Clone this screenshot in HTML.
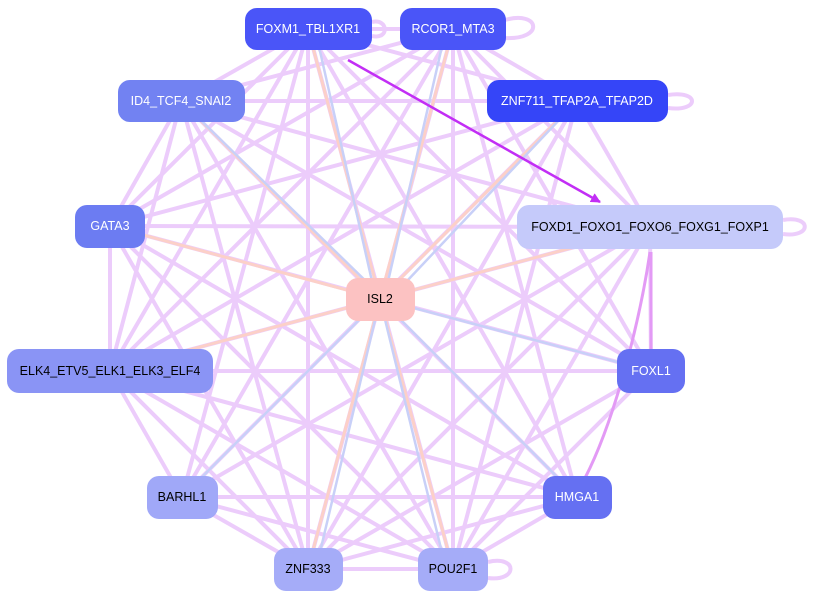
<!DOCTYPE html>
<html><head><meta charset="utf-8"><style>
html,body{margin:0;padding:0;background:#fff;}
svg{display:block;}
text{font-family:"Liberation Sans",sans-serif;font-size:12.5px;text-anchor:middle;dominant-baseline:central;}
</style></head><body>
<svg width="815" height="599" viewBox="0 0 815 599" xmlns="http://www.w3.org/2000/svg">
<defs>
<marker id="a" viewBox="0 0 10 10" refX="9" refY="5" markerWidth="4" markerHeight="4" orient="auto"><path d="M0,0L10,5L0,10z" fill="#e6c2fa"/></marker>
<marker id="b" viewBox="0 0 10 10" refX="9" refY="5" markerWidth="4" markerHeight="4" orient="auto"><path d="M0,0L10,5L0,10z" fill="#c22ef5"/></marker>
</defs>
<g stroke="#ebcafb" stroke-width="4" fill="none" opacity="0.95">
<line x1="308" y1="29" x2="181" y2="101"/>
<line x1="308" y1="29" x2="110" y2="226"/>
<line x1="308" y1="29" x2="110" y2="371"/>
<line x1="308" y1="29" x2="182" y2="497"/>
<line x1="308" y1="29" x2="308" y2="569"/>
<line x1="308" y1="29" x2="453" y2="569"/>
<line x1="308" y1="29" x2="577" y2="497"/>
<line x1="308" y1="29" x2="651" y2="371"/>
<line x1="308" y1="29" x2="577" y2="101"/>
<line x1="308" y1="29" x2="453" y2="29"/>
<line x1="453" y1="29" x2="181" y2="101"/>
<line x1="453" y1="29" x2="110" y2="226"/>
<line x1="453" y1="29" x2="110" y2="371"/>
<line x1="453" y1="29" x2="182" y2="497"/>
<line x1="453" y1="29" x2="308" y2="569"/>
<line x1="453" y1="29" x2="453" y2="569"/>
<line x1="453" y1="29" x2="577" y2="497"/>
<line x1="453" y1="29" x2="651" y2="371"/>
<line x1="453" y1="29" x2="577" y2="101"/>
<line x1="453" y1="29" x2="650" y2="227"/>
<line x1="181" y1="101" x2="577" y2="101"/>
<line x1="181" y1="101" x2="650" y2="227"/>
<line x1="181" y1="101" x2="110" y2="226"/>
<line x1="181" y1="101" x2="110" y2="371"/>
<line x1="181" y1="101" x2="308" y2="569"/>
<line x1="181" y1="101" x2="453" y2="569"/>
<line x1="181" y1="101" x2="577" y2="497"/>
<line x1="181" y1="101" x2="651" y2="371"/>
<line x1="577" y1="101" x2="110" y2="226"/>
<line x1="577" y1="101" x2="110" y2="371"/>
<line x1="577" y1="101" x2="308" y2="569"/>
<line x1="577" y1="101" x2="453" y2="569"/>
<line x1="577" y1="101" x2="650" y2="227"/>
<line x1="577" y1="101" x2="182" y2="497"/>
<line x1="110" y1="226" x2="650" y2="227"/>
<line x1="110" y1="226" x2="110" y2="371"/>
<line x1="110" y1="226" x2="308" y2="569"/>
<line x1="110" y1="226" x2="453" y2="569"/>
<line x1="110" y1="226" x2="577" y2="497"/>
<line x1="110" y1="226" x2="651" y2="371"/>
<line x1="110" y1="371" x2="650" y2="227"/>
<line x1="110" y1="371" x2="651" y2="371"/>
<line x1="110" y1="371" x2="182" y2="497"/>
<line x1="110" y1="371" x2="308" y2="569"/>
<line x1="110" y1="371" x2="453" y2="569"/>
<line x1="110" y1="371" x2="577" y2="497"/>
<line x1="650" y1="227" x2="182" y2="497"/>
<line x1="650" y1="227" x2="308" y2="569"/>
<line x1="650" y1="227" x2="453" y2="569"/>
<line x1="650" y1="227" x2="651" y2="371"/>
<line x1="651" y1="371" x2="308" y2="569"/>
<line x1="651" y1="371" x2="453" y2="569"/>
<line x1="182" y1="497" x2="577" y2="497"/>
<line x1="182" y1="497" x2="308" y2="569"/>
<line x1="182" y1="497" x2="453" y2="569"/>
<line x1="308" y1="569" x2="453" y2="569"/>
<line x1="577" y1="497" x2="453" y2="569"/>
<line x1="577" y1="497" x2="308" y2="569"/>
<path d="M505,20 C540,10 545,40 505,38"/>
<path d="M668,95 C700,90 700,112 668,108"/>
<path d="M783,220 C812,215 812,238 783,234"/>
<path d="M488,562 C518,555 518,582 488,578"/>
<path d="M372,22 C388,18 390,40 372,36"/>
</g>
<g stroke="#fcd0c8" stroke-width="3" fill="none">
<line x1="308" y1="29" x2="380" y2="299"/>
<line x1="453" y1="29" x2="380" y2="299"/>
<line x1="181" y1="101" x2="380" y2="299"/>
<line x1="110" y1="226" x2="380" y2="299"/>
<line x1="110" y1="371" x2="380" y2="299"/>
<line x1="577" y1="101" x2="380" y2="299"/>
<line x1="650" y1="227" x2="380" y2="299"/>
<line x1="308" y1="569" x2="380" y2="299"/>
<line x1="453" y1="569" x2="380" y2="299"/>
</g>
<g stroke="#c8d0f8" stroke-width="2.5" fill="none">
<line x1="315" y1="29" x2="376" y2="299"/>
<line x1="446" y1="29" x2="384" y2="299"/>
<line x1="181" y1="101" x2="375" y2="290"/>
<line x1="651" y1="371" x2="380" y2="299"/>
<line x1="577" y1="497" x2="380" y2="299"/>
<line x1="182" y1="497" x2="380" y2="299"/>
<line x1="316" y1="569" x2="380" y2="299"/>
<line x1="446" y1="569" x2="380" y2="299"/>
<line x1="577" y1="101" x2="390" y2="299"/>
</g>
<line x1="348" y1="60" x2="600" y2="202" stroke="#c22ef5" stroke-width="2.5" marker-end="url(#b)"/>
<path d="M585,478 C615,420 640,320 650,252" stroke="#e39af5" stroke-width="3" fill="none"/>
<line x1="651" y1="350" x2="651" y2="252" stroke="#e39af5" stroke-width="3"/>
<g>
<rect x="245" y="8" width="127" height="42" rx="12" fill="#4a55f8"/><text x="308" y="29" fill="#fff">FOXM1_TBL1XR1</text>
<rect x="400" y="8" width="106" height="42" rx="12" fill="#4a55f8"/><text x="453" y="29" fill="#fff">RCOR1_MTA3</text>
<rect x="118" y="80" width="127" height="42" rx="12" fill="#7282f2"/><text x="181" y="101" fill="#fff">ID4_TCF4_SNAI2</text>
<rect x="487" y="80" width="181" height="42" rx="12" fill="#3545f8"/><text x="577" y="101" fill="#fff">ZNF711_TFAP2A_TFAP2D</text>
<rect x="75" y="205" width="70" height="43" rx="12" fill="#6c7cf2"/><text x="110" y="226" fill="#fff">GATA3</text>
<rect x="517" y="205" width="266" height="44" rx="12" fill="#c5cafa"/><text x="650" y="227" fill="#000">FOXD1_FOXO1_FOXO6_FOXG1_FOXP1</text>
<rect x="346" y="278" width="69" height="43" rx="12" fill="#fcc2c2"/><text x="380" y="299" fill="#000">ISL2</text>
<rect x="7" y="349" width="206" height="44" rx="12" fill="#8a94f5"/><text x="110" y="371" fill="#000">ELK4_ETV5_ELK1_ELK3_ELF4</text>
<rect x="617" y="349" width="68" height="44" rx="12" fill="#6570f2"/><text x="651" y="371" fill="#fff">FOXL1</text>
<rect x="147" y="476" width="71" height="43" rx="12" fill="#a0a8f8"/><text x="182" y="497" fill="#000">BARHL1</text>
<rect x="543" y="476" width="69" height="43" rx="12" fill="#6570f2"/><text x="577" y="497" fill="#fff">HMGA1</text>
<rect x="274" y="548" width="69" height="43" rx="12" fill="#a5acf8"/><text x="308" y="569" fill="#000">ZNF333</text>
<rect x="418" y="548" width="70" height="43" rx="12" fill="#a5acf8"/><text x="453" y="569" fill="#000">POU2F1</text>
</g>
</svg>
</body></html>
